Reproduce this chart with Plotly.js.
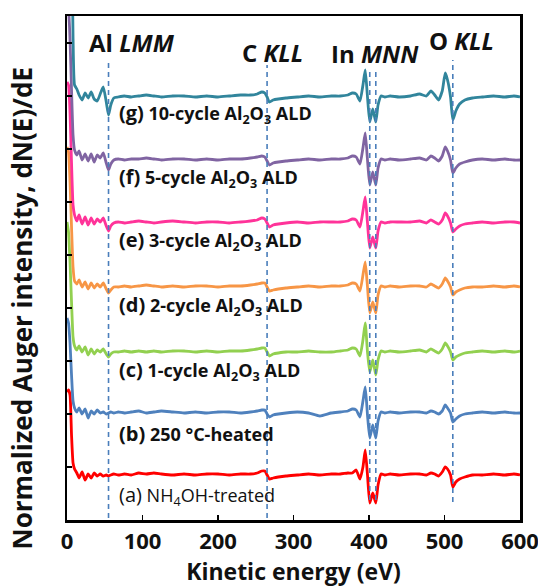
<!DOCTYPE html>
<html>
<head>
<meta charset="utf-8">
<script src="https://cdn.plot.ly/plotly-3.0.1.min.js"></script>
<style>html,body{margin:0;padding:0;background:#fff;}#chart{width:538px;height:587px;}</style>
</head>
<body>
<div id="chart"></div>
<script>
// Kinetic energy grid (eV)
const energy = [0,2,4,6,8,10,13,16,20,24,28,32,36,40,44,48,52,55,58,62,
  68,76,85,95,105,115,125,140,155,170,185,200,215,230,
  243,252,258,262,265,268,273,280,290,305,320,335,350,
  362,372,378,383,388,392,395,398,401,405,409,412,416,421,428,440,455,467,
  476,482,487,492,497,501,504,508,511,515,520,527,537,550,565,580,592,600];

// dN(E)/dE of each sample relative to its own baseline (arbitrary units)
const specA = [83,85,80,40,12,6,2,-3,3,-5,1,-3,2,-1,1,-1,0,-1,0,1,
  0,1,0,2,1,2,1,0,1,0,1,1,0,1,
  1,2,4,4,0,-4,-3,-2,-1,0,1,0,1,
  1,2,2,5,-4,8,25,0,-28,-18,-28,-10,1,0,1,0,1,1,
  0,2,1,-1,3,8,6,0,-12,-7,-4,-2,0,0,1,0,1,0];
const specB = [95,90,70,38,12,5,1,5,-1,4,-5,2,-1,3,0,1,-1,0,1,0,
  1,0,1,2,0,1,2,1,0,1,0,1,1,0,
  1,2,3,3,-1,-4,-2,-1,0,1,0,-3,0,
  1,2,4,3,-4,12,26,-2,-25,-12,-25,-8,1,0,1,0,1,1,
  0,2,1,-1,2,8,5,0,-9,-6,-3,-1,0,1,0,1,0,0];
const specC = [130,120,90,50,15,6,2,6,0,5,-3,3,-2,2,0,3,-2,-5,-2,0,
  0,1,0,1,0,1,0,1,1,0,1,0,1,1,
  2,3,4,4,0,-4,-2,-1,0,0,1,0,0,
  1,2,4,3,-4,12,29,0,-20,-8,-23,-8,1,0,1,0,1,2,
  0,3,1,-1,3,9,6,0,-8,-5,-3,-1,0,1,0,1,0,1];
const specD = [140,135,105,60,20,6,3,7,0,5,-2,4,-1,3,0,4,-2,-6,-3,0,
  0,1,0,1,2,1,0,1,0,1,1,0,1,1,
  2,3,4,4,0,-4,-3,-2,-1,0,1,0,1,
  1,2,4,3,-4,12,25,0,-26,-15,-26,-8,1,0,1,0,1,1,
  0,3,1,-1,3,9,6,0,-8,-5,-3,-1,0,0,1,0,1,0];
const specE = [141,138,110,60,18,8,2,8,-1,6,-2,5,-1,4,1,5,-3,-8,-3,0,
  1,0,1,2,1,0,1,2,1,0,1,1,0,1,
  2,3,5,4,0,-4,-2,-1,0,1,0,1,1,
  1,2,4,3,-4,12,26,0,-25,-14,-25,-8,1,0,1,1,1,2,
  0,3,1,-1,3,10,7,0,-9,-6,-3,-1,0,1,0,1,1,0];
const specF = [150,148,120,70,25,10,5,9,0,6,-1,6,-2,5,2,7,-3,-10,-4,0,
  1,0,1,1,2,1,0,1,1,0,1,0,1,1,
  2,3,4,3,-1,-5,-3,-2,-1,0,1,0,1,
  1,2,4,3,-4,12,27,0,-25,-12,-25,-8,1,0,1,0,1,2,
  0,4,2,-1,4,13,9,0,-13,-8,-4,-2,0,1,0,1,0,0];
const specG = [250,250,240,180,60,12,8,2,-3,4,-1,5,-2,-4,3,10,-5,-18,-8,-1,
  0,1,0,1,2,1,0,1,1,0,1,0,1,2,
  2,3,5,4,0,-5,-3,-2,-1,0,1,0,1,
  1,2,4,3,-4,12,27,0,-25,-12,-25,-8,1,0,1,0,1,3,
  1,6,2,-3,6,24,17,0,-23,-14,-7,-3,-1,0,1,0,1,0];

const spectra = [specA, specB, specC, specD, specE, specF, specG];
const sampleOffsets = [45, 107, 168, 233, 297, 360, 423];
const sampleColors = ['#FF0000','#4F81BD','#92D050','#F79646','#FF3399','#8064A2','#31859C'];
const sampleTags = ['(a)','(b)','(c)','(d)','(e)','(f)','(g)'];
const sampleNames = ['NH<sub>4</sub>OH-treated','250 °C-heated',
  '1-cycle Al<sub>2</sub>O<sub>3</sub> ALD','2-cycle Al<sub>2</sub>O<sub>3</sub> ALD',
  '3-cycle Al<sub>2</sub>O<sub>3</sub> ALD','5-cycle Al<sub>2</sub>O<sub>3</sub> ALD',
  '10-cycle Al<sub>2</sub>O<sub>3</sub> ALD'];

// Auger transition markers
const markerEnergy = [55, 265, 401, 409, 511];
const markerTop = [458, 455, 448, 448, 460];
const markerBottom = [2, 2, 20, 20, 18];
const peakNames = ['Al <i>LMM</i>','C <i>KLL</i>','In <i>MNN</i>','O <i>KLL</i>'];
const peakLabelE = [86, 272, 408, 522];
const peakLabelY = [478, 468, 467, 480];

const FONT = '"Open Sans", Lato, sans-serif';
const traces = [];
spectra.forEach((s, i) => {
  traces.push({
    type: 'scatter', mode: 'lines', x: energy,
    y: s.map(v => v + sampleOffsets[i]),
    line: {color: sampleColors[i], width: 2.8, shape: 'spline', smoothing: 0.5},
    hoverinfo: 'skip', showlegend: false
  });
});
markerEnergy.forEach((e, i) => {
  traces.push({
    type: 'scatter', mode: 'lines', x: [e, e], y: [markerBottom[i], markerTop[i]],
    line: {color: '#4A7EBB', width: 1.6, dash: '5px,4px'},
    hoverinfo: 'skip', showlegend: false
  });
});

const annotations = [];
peakNames.forEach((t, i) => {
  annotations.push({x: peakLabelE[i], y: peakLabelY[i], xref: 'x', yref: 'y',
    text: '<b>' + t + '</b>', showarrow: false, xanchor: 'center', yanchor: 'middle',
    font: {family: FONT, size: 24, color: '#111'}});
});
const labelY = [25, 87, 150, 215, 280, 343, 407];
sampleTags.forEach((t, i) => {
  const txt = i === 0
    ? '<span style="font-size:20px">' + t + '</span> ' + sampleNames[i]
    : '<b><span style="font-size:20px">' + t + '</span> ' + sampleNames[i] + '</b>';
  annotations.push({x: 66, y: labelY[i], xref: 'x', yref: 'y', text: txt,
    showarrow: false, xanchor: 'left', yanchor: 'middle',
    font: {family: FONT, size: 18, color: '#111'}});
});
annotations.push({x: -0.099, y: 0.42, xref: 'paper', yref: 'paper', textangle: -90,
  text: '<b>Normalized Auger intensity, dN(E)/dE</b>', showarrow: false,
  xanchor: 'center', yanchor: 'middle', font: {family: FONT, size: 26, color: '#111'}});

const yTicks = [53,106,159,212,265,318,371,424,477];

const layout = {
  width: 538, height: 587,
  margin: {l: 67, r: 18, t: 16, b: 67},
  paper_bgcolor: '#fff', plot_bgcolor: '#fff',
  showlegend: false,
  xaxis: {
    range: [0, 600], dtick: 100, tick0: 0,
    ticks: 'inside', ticklen: 5, tickwidth: 1.5, tickcolor: '#000',
    ticklabeloverflow: 'allow',
    showline: true, linecolor: '#000', linewidth: 2.5, mirror: true,
    showgrid: false, zeroline: false,
    tickfont: {family: FONT, size: 22, color: '#111', weight: 'bold'},
    title: {text: '<b>Kinetic energy (eV)</b>', standoff: 14,
      font: {family: FONT, size: 23, color: '#111'}}
  },
  yaxis: {
    range: [0, 504], tickvals: yTicks, showticklabels: false,
    ticks: 'inside', ticklen: 5, tickwidth: 1.5, tickcolor: '#000',
    showline: true, linecolor: '#000', linewidth: 2.5, mirror: true,
    showgrid: false, zeroline: false
  },
  annotations: annotations
};

Plotly.newPlot('chart', traces, layout, {staticPlot: true, displayModeBar: false});
</script>
</body>
</html>
